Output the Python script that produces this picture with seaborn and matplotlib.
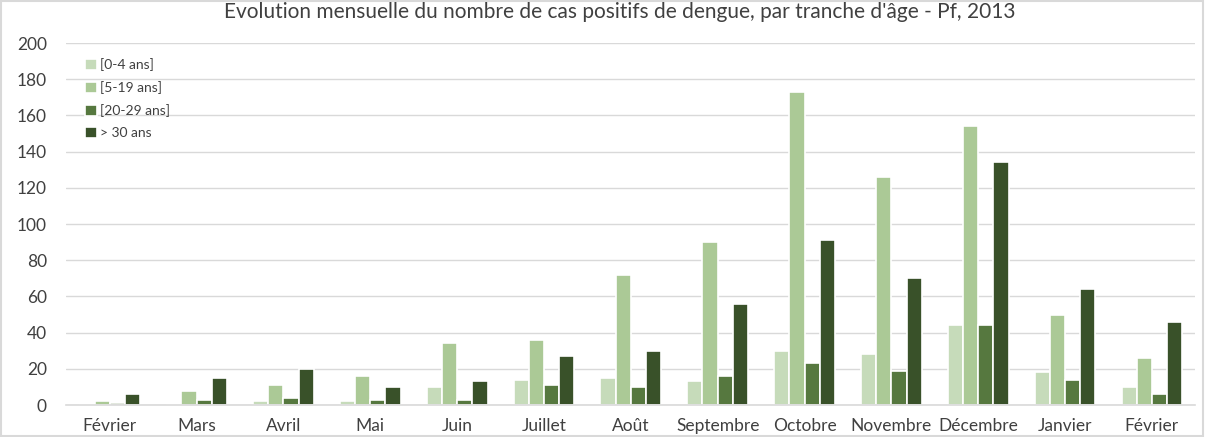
import matplotlib
matplotlib.use("Agg")
import matplotlib.pyplot as plt
import seaborn as sns
import pandas as pd
from matplotlib.patches import Rectangle

months = ["Février", "Mars", "Avril", "Mai", "Juin", "Juillet", "Août",
          "Septembre", "Octobre", "Novembre", "Décembre", "Janvier", "Février"]
groups = ["[0-4 ans]", "[5-19 ans]", "[20-29 ans]", "> 30 ans"]
age_0_4 = [0, 0, 2, 2, 10, 14, 15, 13, 30, 28, 44, 18, 10]
age_5_19 = [2, 8, 11, 16, 34, 36, 72, 90, 173, 126, 154, 50, 26]
age_20_29 = [1, 3, 4, 3, 3, 11, 10, 16, 23, 19, 44, 14, 6]
age_30p = [6, 15, 20, 10, 13, 27, 30, 56, 91, 70, 134, 64, 46]
colors = ["#C5E0B4", "#A9D18E", "#548235", "#385723"]

rows = []
for g, vals in zip(groups, [age_0_4, age_5_19, age_20_29, age_30p]):
    for i, v in enumerate(vals):
        rows.append({"idx": i, "groupe": g, "cas": v})
df = pd.DataFrame(rows)

sns.set_theme(style="white")
plt.rcParams["font.family"] = ["Lato", "DejaVu Sans"]

fig = plt.figure(figsize=(12.05, 4.37), dpi=100)
ax = fig.add_axes([0.055, 0.0732, 0.937, 0.8284])
sns.barplot(data=df, x="idx", y="cas", hue="groupe", hue_order=groups,
            palette=colors, width=0.70, edgecolor="white", linewidth=1.2,
            ax=ax, legend=True)

ax.set_ylim(0, 200)
ax.set_yticks(range(0, 201, 20))
ax.set_xlim(-0.5, len(months) - 0.5)
ax.set_xticks(range(len(months)))
ax.set_xticklabels(months, fontsize=12.5, color="#404040")
ax.tick_params(axis="y", labelsize=12.5, labelcolor="#404040", length=0, pad=14)
ax.tick_params(axis="x", length=0, pad=9)
ax.yaxis.grid(True, color="#D9D9D9", linewidth=1)
ax.set_axisbelow(True)
for s in ["top", "right", "left"]:
    ax.spines[s].set_visible(False)
ax.spines["bottom"].set_color("#D9D9D9")
ax.spines["bottom"].set_linewidth(1.2)
ax.set_xlabel("")
ax.set_ylabel("")

handles, labels = ax.get_legend_handles_labels()
leg = ax.legend(handles, labels, loc="upper left", bbox_to_anchor=(0.017, 0.958),
                frameon=False, fontsize=10, handlelength=0.8, handleheight=0.8,
                handletextpad=0.25, labelspacing=0.72, borderaxespad=0, borderpad=0)
for t in leg.get_texts():
    t.set_color("#404040")

fig.text(0.514, 0.972, "Evolution mensuelle du nombre de cas positifs de dengue, par tranche d'âge - Pf, 2013",
         ha="center", va="center", fontsize=15, color="#404040")
fig.patches.append(Rectangle((0.001, 0.002), 0.997, 0.995, transform=fig.transFigure,
                             fill=False, edgecolor="#D9D9D9", linewidth=1.5))

fig.savefig("out.png", dpi=100)
